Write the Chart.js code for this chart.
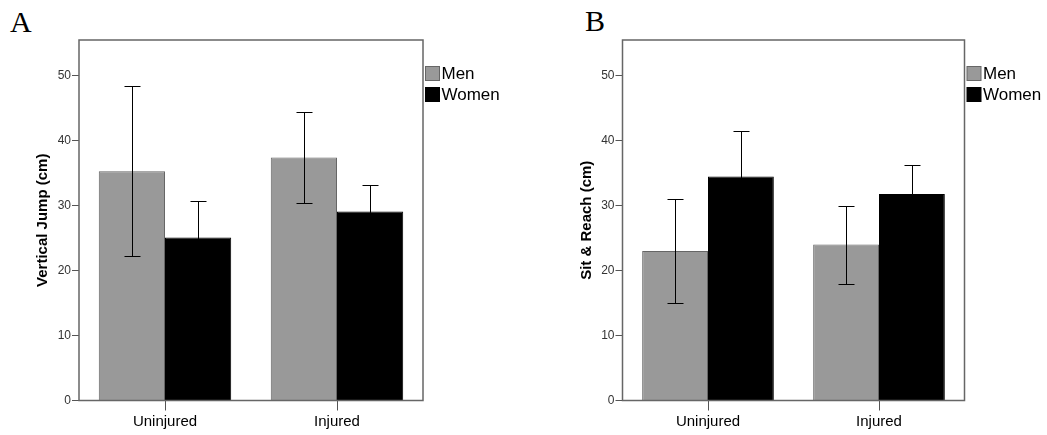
<!DOCTYPE html>
<html lang="en">
<head>
    <meta charset="UTF-8">
    <title>Vertical Jump and Sit & Reach</title>
    <script src="https://cdn.jsdelivr.net/npm/chart.js"></script>
    <style>
        body { margin: 0; background: #fff; width: 1047px; height: 435px; overflow: hidden; position: relative; }
        .panel { position: absolute; top: 0; }
        .letter { position: absolute; font-family: "Liberation Serif", "Times New Roman", serif; font-size: 30px; line-height: 1; color: #000; }
    </style>
</head>
<body>
    <div class="letter" style="left: 10px; top: 7px;">A</div>
    <div class="letter" style="left: 585px; top: 6px;">B</div>
    <div class="panel" style="left: 0;"><canvas id="chartA" width="520" height="435"></canvas></div>
    <div class="panel" style="left: 520px;"><canvas id="chartB" width="527" height="435"></canvas></div>

    <script>
    // categorias e séries
    const categories = ['Uninjured', 'Injured'];
    const seriesNames = ['Men', 'Women'];
    const yTicks = [0, 10, 20, 30, 40, 50];

    // painel A - salto vertical (média e erro)
    const jumpMen = [35.3, 37.4];
    const jumpWomen = [25.1, 29.1];
    const jumpMenErr = [13.1, 6.95];
    const jumpWomenErr = [5.6, 4.1];

    // painel B - sentar e alcançar
    const reachMen = [23.0, 24.0];
    const reachWomen = [34.5, 31.8];
    const reachMenErr = [8.0, 6.0];
    const reachWomenErr = [7.0, 4.4];

    const FONT = 'Arial, "Liberation Sans", sans-serif';

    // moldura em volta da área do gráfico
    const framePlugin = {
        id: 'frame',
        afterDraw(chart) {
            const {ctx, chartArea: a} = chart;
            ctx.save();
            ctx.strokeStyle = '#666';
            ctx.lineWidth = 1.5;
            ctx.strokeRect(a.left, a.top, a.right - a.left, a.bottom - a.top);
            ctx.restore();
        }
    };

    // barras de erro
    const errorBarPlugin = {
        id: 'errorBars',
        afterDatasetsDraw(chart) {
            const {ctx} = chart;
            const y = chart.scales.y;
            ctx.save();
            ctx.strokeStyle = '#000';
            ctx.lineWidth = 1;
            chart.data.datasets.forEach((ds, i) => {
                const meta = chart.getDatasetMeta(i);
                meta.data.forEach((bar, j) => {
                    const m = ds.data[j], e = ds.errors[j];
                    const hi = Math.round(y.getPixelForValue(m + e)) + 0.5;
                    const lo = Math.round(y.getPixelForValue(m - e)) + 0.5;
                    const x = Math.round(bar.x) + 0.5;
                    ctx.beginPath();
                    ctx.moveTo(x, lo); ctx.lineTo(x, hi);
                    ctx.moveTo(x - 8, hi); ctx.lineTo(x + 8, hi);
                    ctx.moveTo(x - 8, lo); ctx.lineTo(x + 8, lo);
                    ctx.stroke();
                });
            });
            ctx.restore();
        }
    };

    // legenda à direita da moldura
    const legendPlugin = {
        id: 'sideLegend',
        afterDraw(chart) {
            const {ctx, chartArea: a} = chart;
            ctx.save();
            chart.data.datasets.forEach((ds, i) => {
                const x = a.right + 2.5, y = a.top + 26.5 + i * 21;
                ctx.fillStyle = ds.backgroundColor;
                ctx.fillRect(x, y, 14, 14);
                ctx.strokeStyle = ds.borderColor;
                ctx.lineWidth = 1;
                ctx.strokeRect(x, y, 14, 14);
                ctx.fillStyle = '#000';
                ctx.font = '17px ' + FONT;
                ctx.textBaseline = 'middle';
                ctx.fillText(ds.label, x + 16, y + 8);
            });
            ctx.restore();
        }
    };

    function makeChart(id, men, women, menErr, womenErr, yTitle, box) {
        return new Chart(document.getElementById(id), {
            type: 'bar',
            data: {
                labels: categories,
                datasets: [{
                    label: seriesNames[0],
                    data: men,
                    errors: menErr,
                    backgroundColor: '#999999',
                    borderColor: '#666666',
                    borderWidth: 1
                }, {
                    label: seriesNames[1],
                    data: women,
                    errors: womenErr,
                    backgroundColor: '#000000',
                    borderColor: '#000000',
                    borderWidth: 1
                }]
            },
            options: {
                responsive: false,
                animation: false,
                devicePixelRatio: 1,
                layout: { padding: { top: 40, right: box.right, left: 0, bottom: 0 } },
                datasets: { bar: { categoryPercentage: 0.77, barPercentage: 1 } },
                plugins: { legend: { display: false }, tooltip: { enabled: false } },
                scales: {
                    x: {
                        border: { display: false },
                        grid: { offset: false, drawOnChartArea: false, tickLength: 10, color: '#555' },
                        ticks: { font: { family: FONT, size: 15 }, color: '#000', padding: 2, maxRotation: 0 },
                        afterFit: s => { s.height = 34.5; }
                    },
                    y: {
                        min: 0,
                        max: 55.5,
                        border: { display: false },
                        grid: { drawOnChartArea: false, tickLength: 7, color: '#555' },
                        ticks: { font: { family: FONT, size: 12 }, color: '#333', padding: 1 },
                        afterBuildTicks: s => { s.ticks = yTicks.map(v => ({ value: v })); },
                        title: {
                            display: true,
                            text: yTitle,
                            color: '#000',
                            font: { family: FONT, size: 15, weight: 'bold' },
                            padding: { top: box.titlePad, bottom: 0 }
                        },
                        afterFit: s => { s.width = box.left; }
                    }
                }
            },
            plugins: [errorBarPlugin, framePlugin, legendPlugin]
        });
    }

    makeChart('chartA', jumpMen, jumpWomen, jumpMenErr, jumpWomenErr, 'Vertical Jump (cm)',
        { left: 79, right: 97, titlePad: 34 });
    makeChart('chartB', reachMen, reachWomen, reachMenErr, reachWomenErr, 'Sit & Reach (cm)',
        { left: 102.5, right: 82.5, titlePad: 58 });
    </script>
</body>
</html>
